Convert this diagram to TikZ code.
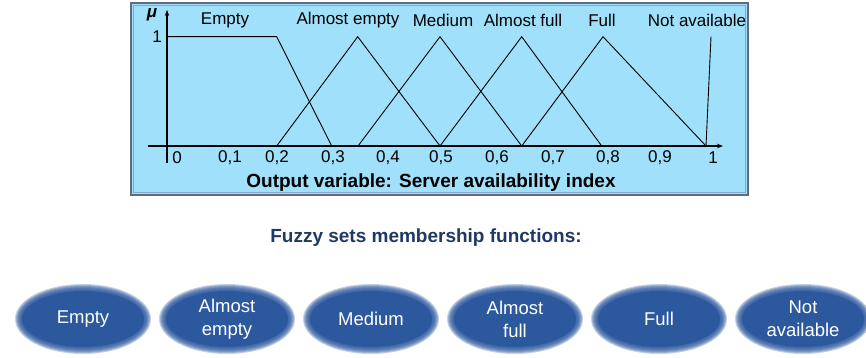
\documentclass[tikz,border=0pt]{standalone}
\usepackage{fontspec}
\setmainfont{Liberation Sans}
\usetikzlibrary{arrows.meta}
\definecolor{panelfill}{RGB}{160,224,250}
\definecolor{panelborder}{RGB}{95,108,128}
\definecolor{panelinner}{RGB}{130,170,200}
\definecolor{ellblue}{RGB}{44,88,158}
\definecolor{navy}{RGB}{31,56,100}
\begin{document}
\begin{tikzpicture}[x=1pt,y=-1pt,
  lbl/.style={font=\fontsize{17}{18}\selectfont, inner sep=0pt},
  ticklbl/.style={font=\fontsize{17}{18}\selectfont, inner sep=0pt},
  mf/.style={line width=0.9pt, black},
  axisline/.style={line width=1.4pt, -{Stealth[length=6pt,width=4.5pt]}},
  etext/.style={font=\fontsize{18.5}{23}\selectfont, text=white, align=center, inner sep=0pt},
  title/.style={font=\fontsize{19}{22}\selectfont\bfseries, inner sep=0pt},
]
\useasboundingbox (0,0) rectangle (866,358);

% panel
\draw[panelborder, fill=panelfill, line width=2pt] (131,3.5) rectangle (747.5,194.5);
\draw[panelinner, line width=1pt] (133.5,6) rectangle (745,192);

% axes
\coordinate (xs) at (148,146);
\coordinate (xe) at (723,146);
\coordinate (ys) at (167,163);
\coordinate (ye) at (167,10);
\draw[axisline] (xs) -- (xe);
\draw[axisline] (ys) -- (ye);

% membership functions
\coordinate (o)   at (167,36.7);
\coordinate (a2)  at (276.7,36.7);
\coordinate (b2)  at (276.7,146);
\coordinate (b3)  at (331.7,146);
\coordinate (p2)  at (357.7,36.7);
\coordinate (b35) at (358,146);
\coordinate (p3)  at (440,36.7);
\coordinate (b5)  at (440,146);
\coordinate (p4)  at (521.7,36.7);
\coordinate (b65) at (521.7,146);
\coordinate (p5)  at (603,36.7);
\coordinate (b8)  at (601.7,146);
\coordinate (b1)  at (706,146);
\coordinate (p6)  at (711,36.7);
\draw[mf] (o) -- (a2) -- (b3);
\draw[mf] (b2) -- (p2) -- (b5);
\draw[mf] (b35) -- (p3) -- (b65);
\draw[mf] (b5) -- (p4) -- (b8);
\draw[mf] (b65) -- (p5) -- (b1);
\draw[mf] (b1) -- (p6);

% axis labels
\node[font=\fontsize{17}{18}\selectfont\bfseries\itshape, inner sep=0pt] (mu) at (152,15) {μ};
\node[ticklbl] (one) at (157,37) {1};
\foreach \x/\t [count=\i] in {177/0, 230/{0,1}, 277/{0,2}, 333/{0,3}, 388/{0,4}, 441/{0,5}, 497/{0,6}, 553/{0,7}, 608/{0,8}, 660/{0,9}, 713/1}
  \node[ticklbl] (t\i) at (\x,158) {\t};

% set labels
\node[lbl] (l1) at (225,20) {Empty};
\node[lbl] (l2) at (348,20) {Almost empty};
\node[lbl] (l3) at (443,20) {Medium};
\node[lbl] (l4) at (523,20) {Almost full};
\node[lbl] (l5) at (602,20) {Full};
\node[lbl] (l6) at (697,20) {Not available};

\node[title] (ttl) at (431,183) {Output variable: Server availability index};

\node[title, text=navy] (sub) at (426,238) {Fuzzy sets membership functions:};

% fuzzy ellipses
\foreach \cx in {83,227,371,515,659,803} {
  \foreach \i in {1,...,7}
    \fill[ellblue, opacity=0.28] (\cx,319) ellipse [x radius={61+\i}, y radius={28+\i}];
  \fill[ellblue] (\cx,319) ellipse [x radius=61, y radius=28];
}
\node[etext] (e1) at (83,319) {Empty};
\node[etext] (e2) at (227,319) {Almost\\empty};
\node[etext] (e3) at (371,319) {Medium};
\node[etext] (e4) at (515,319) {Almost\\full};
\node[etext] (e5) at (659,319) {Full};
\node[etext] (e6) at (803,319) {Not\\available};
\end{tikzpicture}
\end{document}
